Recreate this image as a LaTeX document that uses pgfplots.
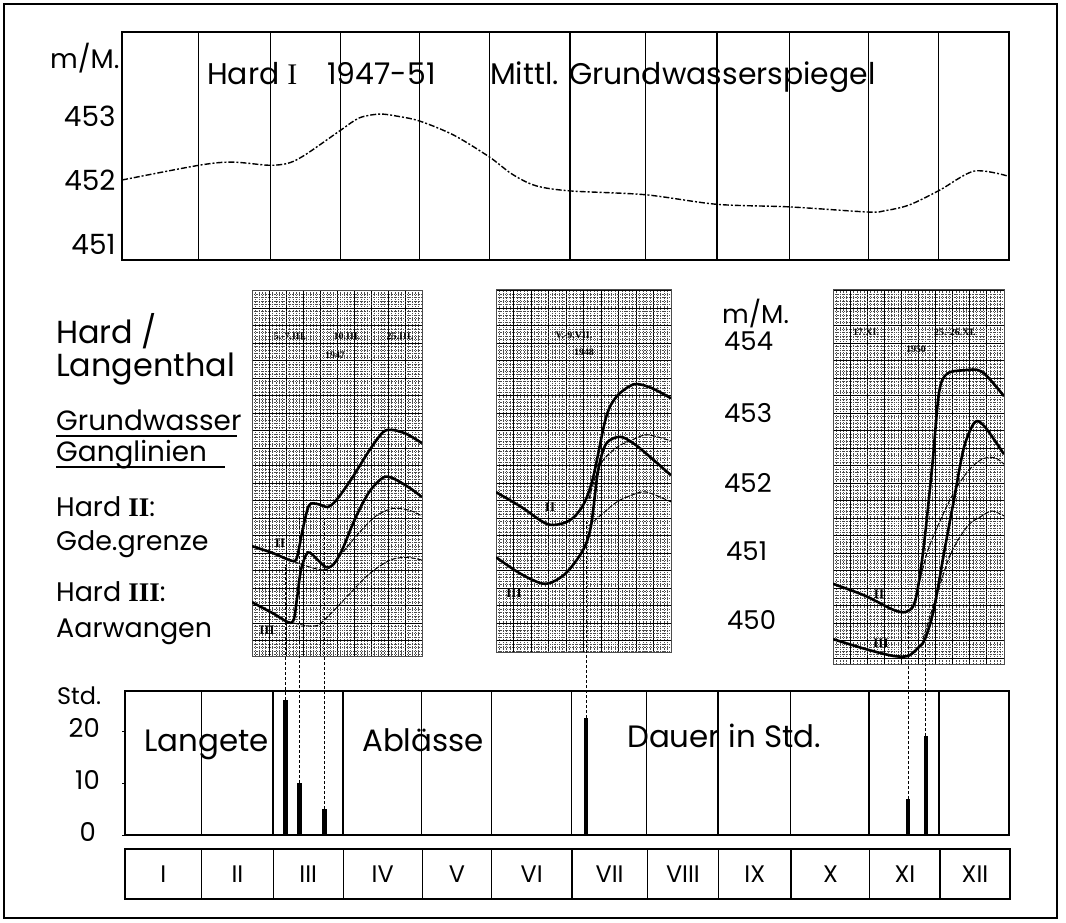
\documentclass[border=0pt]{standalone}
\usepackage{fontspec}
\setmainfont{Poppins}
\newfontfamily\romfont{Liberation Serif}
\usepackage{pgfplots}
\pgfplotsset{compat=1.18}
\newcommand\fs[1]{\fontsize{#1}{#1}\selectfont}
\pgfplotsset{
 insert/.style={scale only axis, anchor=north west, xmin=0, xmax=10,
  xtick={0,...,10}, ytick={449.5,449.75,...,454.75}, xticklabels={}, yticklabels={},
  major tick length=0, minor tick length=0, minor x tick num=4, minor y tick num=4,
  grid=both, major grid style={black, line width=0.9bp},
  minor grid style={black!70, line width=0.45bp, dash pattern=on 0.8bp off 1bp},
  axis line style={line width=0.6bp, black!70}},
 thick curve/.style={black, line width=2.6bp, smooth, tension=0.5},
 thin curve/.style={black, line width=1.0bp, smooth, tension=0.5, dash pattern=on 5bp off 1.5bp},
}
\begin{document}
\begin{tikzpicture}
\begin{scope}[x=1bp,y=1bp]
\useasboundingbox (0,0) rectangle (1066,-923);
\draw[line width=1.3bp] (4,-4) rectangle (1057,-918);
\end{scope}

% ---------------- top panel ----------------
\begin{axis}[at={(122bp,-32bp)}, anchor=north west, scale only axis, width=887bp, height=228bp,
 xmin=0, xmax=12, ymin=450.75, ymax=454.3125,
 xtick={1.04,2.01,2.96,4.03,4.97,6.06,7.08,8.05,9.03,10.1,11.05}, xticklabels={},
 xmajorgrids, grid style={black, line width=1.2bp},
 ytick={451,452,453}, yticklabels={451,452,453},
 major tick length=0, axis line style={line width=1.3bp},
 yticklabel style={font=\fs{28}, xshift=-3bp},
 /pgf/number format/assume math mode=true]
\addplot[black, line width=1.4bp, smooth, dash pattern=on 6bp off 2bp on 2bp off 2bp] coordinates {
(0,452.0) (1.04,452.23) (1.49,452.28) (2.0,452.23) (2.27,452.27) (2.5,452.41) (2.96,452.78)
(3.21,452.97) (3.48,453.03) (3.71,453.0) (4.03,452.92) (4.49,452.7) (4.97,452.36) (5.28,452.09)
(5.6,451.91) (6.06,451.83) (7.08,451.77) (8.05,451.62) (9.03,451.58) (10.09,451.5) (10.32,451.52)
(10.65,451.61) (11.06,451.84) (11.53,452.14) (11.99,452.06)};
\end{axis}

% ---------------- insert 1 (1947) ----------------
\begin{axis}[insert, at={(252bp,-290bp)}, width=170bp, height=366bp, ymin=449.53, ymax=454.76]
\addplot[thick curve] coordinates {(0,451.1) (1.24,451.0) (2.35,450.89) (2.65,450.94) (2.94,451.29) (3.35,451.68) (3.88,451.7) (4.47,451.66) (5.0,451.77) (5.88,452.07) (6.88,452.46) (7.71,452.73) (8.29,452.76) (9.12,452.7) (10,452.57)};
\addplot[thick curve] coordinates {(0,450.3) (1.24,450.14) (2.35,450.01) (2.65,450.36) (2.88,450.76) (3.29,451.01) (3.88,450.9) (4.35,450.8) (4.76,450.83) (5.29,451.04) (6.06,451.49) (6.88,451.87) (7.71,452.08) (8.29,452.07) (9.29,451.93) (10,451.8)};
\addplot[thin curve] coordinates {(2.47,450.88) (4.29,450.76) (5.29,451.0) (6.29,451.29) (7.29,451.53) (8.29,451.64) (9.29,451.61) (10,451.53)};
\addplot[thin curve] coordinates {(2.47,450.0) (3.29,449.96) (3.88,449.97) (4.65,450.14) (5.71,450.41) (6.88,450.7) (8.12,450.9) (9.12,450.94) (10,450.9)};
\end{axis}

% ---------------- insert 2 (1948) ----------------
\begin{axis}[insert, at={(496bp,-289bp)}, width=175bp, height=363bp, ymin=449.586, ymax=454.771]
\addplot[thick curve] coordinates {(0,451.87) (1.43,451.66) (2.97,451.41) (4.17,451.46) (4.97,451.68) (5.54,452.07) (6.29,452.94) (6.91,453.24) (7.89,453.41) (8.86,453.36) (10,453.21)};
\addplot[thick curve] coordinates {(0,450.94) (1.43,450.7) (2.8,450.56) (3.94,450.7) (4.97,451.04) (5.43,451.39) (5.83,452.17) (6.29,452.56) (7.09,452.66) (7.89,452.56) (8.86,452.36) (10,452.11)};
\addplot[thin curve] coordinates {(5.31,451.77) (5.94,452.26) (6.91,452.51) (7.66,452.6) (8.63,452.69) (10,452.6)};
\addplot[thin curve] coordinates {(5.31,451.39) (5.94,451.53) (6.91,451.73) (7.89,451.84) (8.63,451.87) (10,451.73)};
\end{axis}

% ---------------- insert 3 (1950) ----------------
\begin{axis}[insert, at={(833bp,-289bp)}, width=171bp, height=375bp, ymin=449.414, ymax=454.771]
\addplot[thick curve] coordinates {(0,450.56) (1.87,450.39) (3.51,450.19) (4.27,450.16) (4.8,450.31) (5.26,451.0) (5.79,452.21) (6.2,453.29) (6.67,453.56) (7.66,453.61) (8.71,453.59) (10,453.24)};
\addplot[thick curve] coordinates {(0,449.77) (1.87,449.63) (3.51,449.53) (4.39,449.53) (4.91,449.63) (5.38,449.77) (5.91,450.21) (6.49,451.0) (7.08,451.77) (7.66,452.51) (8.3,452.87) (8.89,452.8) (10,452.41)};
\addplot[thin curve] coordinates {(4.68,450.21) (5.5,451.0) (6.32,451.49) (7.08,451.87) (7.89,452.17) (8.71,452.34) (9.47,452.36) (10,452.27)};
\addplot[thin curve] coordinates {(5.26,449.77) (6.08,450.41) (6.9,451.0) (7.89,451.39) (8.71,451.53) (9.3,451.6) (10,451.53)};
\end{axis}

% ---------------- bar panel ----------------
\begin{axis}[at={(125bp,-691bp)}, anchor=north west, scale only axis, width=884bp, height=144bp,
 xmin=0, xmax=12, ymin=0, ymax=27.69,
 xtick={1.04,2.01,2.96,4.03,4.97,6.06,7.08,8.05,9.03,10.1,11.05}, xticklabels={},
 xmajorgrids, grid style={black, line width=1.2bp},
 ytick={0,10,20}, yticklabels={}, ytick pos=left, xtick style={draw=none},
 ytick style={black, line width=1bp}, major tick length=3bp, tick align=outside,
 axis line style={line width=1.3bp}, clip=false]
\addplot[ycomb, black, line width=4.5bp] coordinates {(2.18,26) (2.37,10) (2.71,5) (6.26,22.5) (10.63,7) (10.87,19)};
\draw[densely dashed, line width=1bp] (axis cs:2.18,26) -- (axis cs:2.18,52);
\draw[densely dashed, line width=1bp] (axis cs:2.37,10) -- (axis cs:2.37,60.8);
\draw[densely dashed, line width=1bp] (axis cs:2.71,5) -- (axis cs:2.71,60.8);
\draw[densely dashed, line width=1bp] (axis cs:6.26,22.5) -- (axis cs:6.26,60.8);
\draw[densely dashed, line width=1bp] (axis cs:10.63,7) -- (axis cs:10.63,42);
\draw[densely dashed, line width=1bp] (axis cs:10.87,19) -- (axis cs:10.87,37);
\end{axis}

% ---------------- month row ----------------
\begin{axis}[at={(125bp,-849bp)}, anchor=north west, scale only axis, width=885bp, height=50bp,
 xmin=0, xmax=12, ymin=0, ymax=1,
 xtick={1.04,2.01,2.96,4.03,4.97,6.06,7.08,8.05,9.03,10.1,11.05}, xticklabels={},
 ytick=\empty, xmajorgrids, grid style={black, line width=1.2bp},
 major tick length=0, axis line style={line width=1.3bp}]
\path[every node/.style={font=\fs{24}}]
 (axis cs:0.52,0.5) node {I} (axis cs:1.525,0.5) node {II} (axis cs:2.485,0.5) node {III}
 (axis cs:3.495,0.5) node {IV} (axis cs:4.5,0.5) node {V} (axis cs:5.515,0.5) node {VI}
 (axis cs:6.57,0.5) node {VII} (axis cs:7.565,0.5) node {VIII} (axis cs:8.54,0.5) node {IX}
 (axis cs:9.565,0.5) node {X} (axis cs:10.575,0.5) node {XI} (axis cs:11.525,0.5) node {XII};
\end{axis}

\begin{scope}[x=1bp,y=1bp]
\node[anchor=base west, font=\fs{27}, inner sep=0] at (50,-68) {m/M.};
\node[anchor=base west, font=\fs{30}, inner sep=0] at (207,-84) {Hard {\romfont I}\quad 1947-51};
\node[anchor=base west, font=\fs{30}, inner sep=0] at (490,-84) {Mittl. Grundwasserspiegel};
% left text block
\begin{scope}[every node/.style={anchor=base west, inner sep=0}]
\node[font=\fs{32}] at (56,-343) {Hard /};
\node[font=\fs{32}] at (56,-376) {Langenthal};
\node[font=\fs{28}] at (56,-430) {Grundwasser};
\node[font=\fs{28}] at (56,-461) {Ganglinien};
\node[font=\fs{27}] at (56,-516) {Hard {\romfont\bfseries II}:};
\node[font=\fs{27}] at (56,-550) {Gde.grenze};
\node[font=\fs{27}] at (56,-601) {Hard {\romfont\bfseries III}:};
\node[font=\fs{27}] at (56,-637) {Aarwangen};
\end{scope}
\draw[line width=1.5bp] (56,-436) -- (237,-436);
\draw[line width=1.5bp] (56,-467) -- (225,-467);
% insert labels
\begin{scope}[every node/.style={inner sep=0, font=\romfont\bfseries\fs{10}}]
\node at (290,-336) {5.-7.III.};
\node at (347,-336) {10.III.};
\node at (400,-336) {25.III.};
\node at (335,-355) {1947};
\node[font=\romfont\bfseries\fs{13}] at (280,-543) {II};
\node[font=\romfont\bfseries\fs{13}] at (267,-630) {III};
\node at (574,-335) {V.-9.VII.};
\node at (584,-352) {1948};
\node[font=\romfont\bfseries\fs{13}] at (550,-507) {II};
\node[font=\romfont\bfseries\fs{13}] at (514,-593) {III};
\node at (866,-332) {17.XI.};
\node at (955,-332) {25.-26.XI.};
\node at (916,-349) {1950};
\node[font=\romfont\bfseries\fs{13}] at (879,-594) {II};
\node[font=\romfont\bfseries\fs{13}] at (881,-643) {III};
\end{scope}
% y labels of the inserts
\begin{scope}[every node/.style={anchor=base west, inner sep=0, font=\fs{26}}]
\node at (722,-323) {m/M.};
\node at (724,-350) {454};
\node at (724,-422) {453};
\node at (724,-492) {452};
\node at (726,-560) {451};
\node at (727,-629) {450};
\end{scope}
% bar panel labels
\begin{scope}[every node/.style={inner sep=0}]
\node[anchor=base west, font=\fs{24}] at (57,-704) {Std.};
\node[anchor=east, font=\fs{26}] at (100,-728) {20};
\node[anchor=east, font=\fs{26}] at (100,-780) {10};
\node[anchor=east, font=\fs{26}] at (96,-832) {0};
\node[anchor=base west, font=\fs{31}] at (144,-751) {Langete};
\node[anchor=base west, font=\fs{31}] at (362,-751) {Ablässe};
\node[anchor=base west, font=\fs{31}] at (627,-747) {Dauer in Std.};
\end{scope}
\end{scope}
\end{tikzpicture}
\end{document}
